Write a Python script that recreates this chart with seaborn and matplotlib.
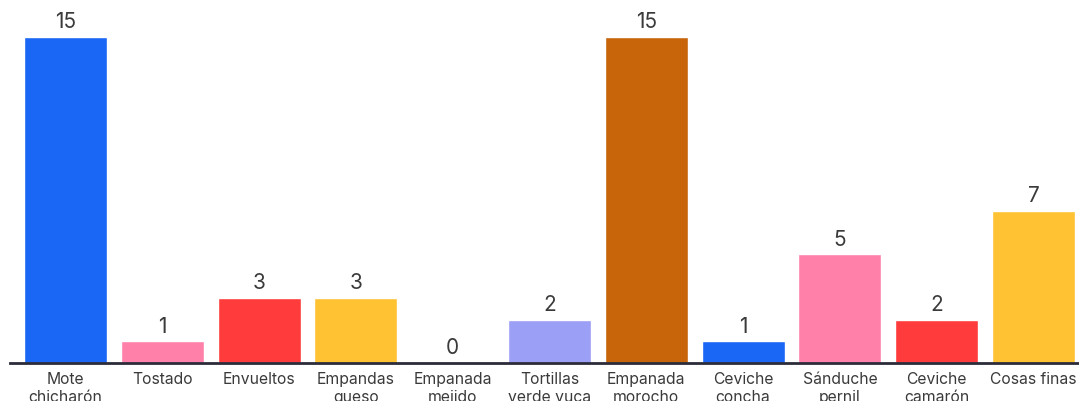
import matplotlib
matplotlib.use("Agg")
import matplotlib.pyplot as plt
import seaborn as sns
import pandas as pd

categories = ["Mote\nchicharón", "Tostado", "Envueltos", "Empandas\nqueso", "Empanada\nmejido",
              "Tortillas\nverde yuca", "Empanada\nmorocho", "Ceviche\nconcha", "Sánduche\npernil",
              "Ceviche\ncamarón", "Cosas finas"]
values = [15, 1, 3, 3, 0, 2, 15, 1, 5, 2, 7]
colors = ["#1a66f5", "#ff80a8", "#ff3b3b", "#ffc233", "#ffffff", "#9b9ff5",
          "#c8640a", "#1a66f5", "#ff80a8", "#ff3b3b", "#ffc233"]

sns.set_theme(style="white")
plt.rcParams["font.family"] = ["Inter", "DejaVu Sans"]

df = pd.DataFrame({"cat": categories, "val": values})

W, H = 1079, 402
fig = plt.figure(figsize=(W / 100, H / 100), dpi=100)
ax = fig.add_axes([10 / W, (H - 364) / H, (W - 10) / W, 364 / H])

sns.barplot(data=df, x="cat", y="val", hue="cat", palette=colors, legend=False,
            width=0.857, saturation=1, ax=ax)

ax.set_xlim(-0.573, 10.47)
ax.set_ylim(0, 16.75)
for i, v in enumerate(values):
    ax.annotate(str(v), (i, v), xytext=(0, 4), textcoords="offset points",
                ha="center", va="bottom", fontsize=15, color="#3a3a3a")

ax.set_xlabel("")
ax.set_ylabel("")
ax.set_yticks([])
ax.tick_params(axis="x", length=0, pad=6, labelsize=11.3, labelcolor="#3a3a3a")
for lbl in ax.get_xticklabels():
    lbl.set_linespacing(1.2)
for s in ["top", "right", "left"]:
    ax.spines[s].set_visible(False)
ax.spines["bottom"].set_color("#2b2b3a")
ax.spines["bottom"].set_linewidth(2)

fig.savefig("out.png", dpi=100)
